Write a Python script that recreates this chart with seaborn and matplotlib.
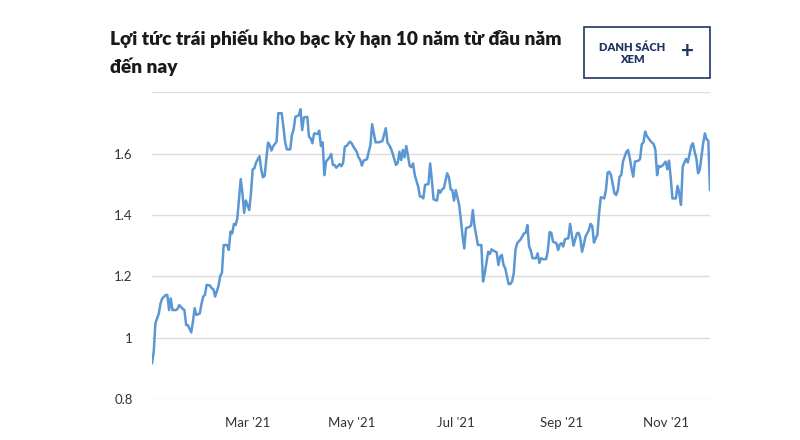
import pandas as pd
import matplotlib
matplotlib.use("Agg")
import matplotlib.pyplot as plt
import matplotlib.dates as mdates
from matplotlib.patches import Rectangle
from matplotlib.ticker import FuncFormatter
import seaborn as sns

# US 10Y treasury yield, 2021 YTD
dates = [
    "2021-01-04", "2021-01-05", "2021-01-06", "2021-01-08", "2021-01-09", "2021-01-10",
    "2021-01-12", "2021-01-13", "2021-01-14", "2021-01-15", "2021-01-16", "2021-01-18",
    "2021-01-19", "2021-01-20", "2021-01-22", "2021-01-23", "2021-01-24", "2021-01-25",
    "2021-01-27", "2021-01-28", "2021-01-29", "2021-01-30", "2021-02-01", "2021-02-02",
    "2021-02-03", "2021-02-04", "2021-02-05", "2021-02-07", "2021-02-08", "2021-02-09",
    "2021-02-10", "2021-02-12", "2021-02-13", "2021-02-14", "2021-02-15", "2021-02-17",
    "2021-02-18", "2021-02-19", "2021-02-20", "2021-02-21", "2021-02-22", "2021-02-23",
    "2021-02-25", "2021-02-26", "2021-02-27", "2021-02-28", "2021-03-02", "2021-03-03",
    "2021-03-04", "2021-03-05", "2021-03-06", "2021-03-08", "2021-03-09", "2021-03-10",
    "2021-03-11", "2021-03-13", "2021-03-14", "2021-03-15", "2021-03-16", "2021-03-18",
    "2021-03-19", "2021-03-21", "2021-03-22", "2021-03-23", "2021-03-24", "2021-03-26",
    "2021-03-27", "2021-03-28", "2021-03-29", "2021-03-31", "2021-04-01", "2021-04-02",
    "2021-04-03", "2021-04-05", "2021-04-06", "2021-04-07", "2021-04-08", "2021-04-09",
    "2021-04-11", "2021-04-12", "2021-04-13", "2021-04-14", "2021-04-15", "2021-04-16",
    "2021-04-18", "2021-04-19", "2021-04-20", "2021-04-21", "2021-04-22", "2021-04-24",
    "2021-04-25", "2021-04-26", "2021-04-27", "2021-04-28", "2021-04-30", "2021-05-01",
    "2021-05-02", "2021-05-04", "2021-05-05", "2021-05-06", "2021-05-07", "2021-05-08",
    "2021-05-10", "2021-05-11", "2021-05-12", "2021-05-13", "2021-05-14", "2021-05-15",
    "2021-05-17", "2021-05-18", "2021-05-19", "2021-05-21", "2021-05-22", "2021-05-23",
    "2021-05-24", "2021-05-25", "2021-05-27", "2021-05-28", "2021-05-29", "2021-05-30",
    "2021-05-31", "2021-06-01", "2021-06-02", "2021-06-04", "2021-06-05", "2021-06-06",
    "2021-06-07", "2021-06-09", "2021-06-10", "2021-06-11", "2021-06-12", "2021-06-13",
    "2021-06-15", "2021-06-16", "2021-06-17", "2021-06-18", "2021-06-20", "2021-06-21",
    "2021-06-22", "2021-06-23", "2021-06-24", "2021-06-26", "2021-06-27", "2021-06-28",
    "2021-06-29", "2021-06-30", "2021-07-01", "2021-07-03", "2021-07-04", "2021-07-05",
    "2021-07-06", "2021-07-07", "2021-07-09", "2021-07-10", "2021-07-11", "2021-07-12",
    "2021-07-14", "2021-07-15", "2021-07-16", "2021-07-17", "2021-07-18", "2021-07-20",
    "2021-07-21", "2021-07-22", "2021-07-23", "2021-07-25", "2021-07-26", "2021-07-27",
    "2021-07-28", "2021-07-29", "2021-07-30", "2021-08-01", "2021-08-02", "2021-08-03",
    "2021-08-04", "2021-08-05", "2021-08-06", "2021-08-08", "2021-08-10", "2021-08-11",
    "2021-08-12", "2021-08-13", "2021-08-14", "2021-08-15", "2021-08-17", "2021-08-18",
    "2021-08-19", "2021-08-20", "2021-08-21", "2021-08-23", "2021-08-24", "2021-08-25",
    "2021-08-26", "2021-08-27", "2021-08-29", "2021-08-30", "2021-08-31", "2021-09-01",
    "2021-09-02", "2021-09-03", "2021-09-05", "2021-09-06", "2021-09-07", "2021-09-08",
    "2021-09-10", "2021-09-11", "2021-09-12", "2021-09-13", "2021-09-14", "2021-09-15",
    "2021-09-17", "2021-09-18", "2021-09-19", "2021-09-20", "2021-09-21", "2021-09-22",
    "2021-09-23", "2021-09-24", "2021-09-26", "2021-09-27", "2021-09-28", "2021-09-29",
    "2021-09-30", "2021-10-02", "2021-10-03", "2021-10-04", "2021-10-05", "2021-10-06",
    "2021-10-07", "2021-10-09", "2021-10-10", "2021-10-11", "2021-10-12", "2021-10-13",
    "2021-10-14", "2021-10-16", "2021-10-17", "2021-10-18", "2021-10-19", "2021-10-20",
    "2021-10-21", "2021-10-23", "2021-10-24", "2021-10-25", "2021-10-26", "2021-10-27",
    "2021-10-28", "2021-10-29", "2021-10-30", "2021-11-01", "2021-11-02", "2021-11-03",
    "2021-11-04", "2021-11-05", "2021-11-07", "2021-11-08", "2021-11-09", "2021-11-10",
    "2021-11-11", "2021-11-12", "2021-11-13", "2021-11-14", "2021-11-16", "2021-11-17",
    "2021-11-18", "2021-11-19", "2021-11-20", "2021-11-21", "2021-11-23", "2021-11-24",
    "2021-11-25", "2021-11-26", "2021-11-27",
]
yields = [
    0.916, 0.954, 1.047, 1.079, 1.112, 1.128,
    1.139, 1.139, 1.090, 1.128, 1.090, 1.090,
    1.094, 1.106, 1.094, 1.090, 1.041, 1.041,
    1.017, 1.052, 1.096, 1.074, 1.079, 1.110,
    1.134, 1.139, 1.172, 1.170, 1.161, 1.158,
    1.134, 1.169, 1.201, 1.212, 1.302, 1.302,
    1.286, 1.346, 1.340, 1.371, 1.367, 1.389,
    1.517, 1.471, 1.407, 1.447, 1.416, 1.471,
    1.549, 1.552, 1.571, 1.592, 1.549, 1.523,
    1.528, 1.636, 1.628, 1.610, 1.624, 1.639,
    1.732, 1.732, 1.688, 1.639, 1.614, 1.614,
    1.661, 1.679, 1.720, 1.725, 1.745, 1.677,
    1.718, 1.720, 1.655, 1.650, 1.634, 1.666,
    1.664, 1.675, 1.625, 1.637, 1.530, 1.574,
    1.588, 1.599, 1.563, 1.563, 1.554, 1.566,
    1.559, 1.570, 1.623, 1.625, 1.639, 1.634,
    1.623, 1.606, 1.588, 1.580, 1.561, 1.577,
    1.582, 1.606, 1.628, 1.696, 1.666, 1.637,
    1.637, 1.639, 1.641, 1.683, 1.636, 1.628,
    1.617, 1.601, 1.563, 1.570, 1.606, 1.579,
    1.612, 1.588, 1.625, 1.560, 1.556, 1.568,
    1.530, 1.492, 1.460, 1.460, 1.454, 1.498,
    1.501, 1.568, 1.514, 1.451, 1.447, 1.481,
    1.473, 1.484, 1.487, 1.536, 1.523, 1.484,
    1.481, 1.447, 1.481, 1.433, 1.384, 1.331,
    1.291, 1.357, 1.361, 1.366, 1.416, 1.364,
    1.302, 1.302, 1.302, 1.183, 1.210, 1.280,
    1.273, 1.288, 1.284, 1.278, 1.237, 1.264,
    1.270, 1.237, 1.226, 1.175, 1.175, 1.183,
    1.210, 1.286, 1.308, 1.320, 1.340, 1.342,
    1.367, 1.297, 1.284, 1.259, 1.259, 1.275,
    1.244, 1.259, 1.256, 1.256, 1.286, 1.344,
    1.342, 1.313, 1.308, 1.286, 1.304, 1.308,
    1.297, 1.321, 1.324, 1.371, 1.335, 1.300,
    1.340, 1.342, 1.324, 1.280, 1.302, 1.329,
    1.351, 1.371, 1.364, 1.310, 1.324, 1.335,
    1.405, 1.458, 1.454, 1.481, 1.538, 1.541,
    1.530, 1.471, 1.465, 1.481, 1.525, 1.530,
    1.574, 1.606, 1.612, 1.585, 1.552, 1.525,
    1.574, 1.577, 1.582, 1.631, 1.636, 1.672,
    1.658, 1.642, 1.636, 1.631, 1.612, 1.530,
    1.560, 1.557, 1.560, 1.574, 1.549, 1.577,
    1.520, 1.454, 1.454, 1.495, 1.471, 1.433,
    1.557, 1.571, 1.583, 1.571, 1.625, 1.634,
    1.606, 1.585, 1.536, 1.547, 1.634, 1.666,
    1.647, 1.642, 1.481,
]
y_ticks = [0.8, 1.0, 1.2, 1.4, 1.6, 1.8]
title = "Lợi tức trái phiếu kho bạc kỳ hạn 10 năm từ đầu năm\nđến nay"
button_text = "DANH SÁCH\nXEM"

df = pd.DataFrame({"date": pd.to_datetime(dates), "yield": yields})

sns.set_style("white")
plt.rcParams["font.family"] = ["Lato", "DejaVu Sans"]

fig = plt.figure(figsize=(8, 4.4), dpi=100)
ax = fig.add_axes([0.19, 0.0932, 0.6975, 0.697])

sns.lineplot(data=df, x="date", y="yield", ax=ax, color="#5b97d3", linewidth=1.8)

ax.set_xlim(df["date"].min(), df["date"].max())
ax.set_ylim(0.8, 1.8)
ax.set_yticks(y_ticks)
ax.yaxis.set_major_formatter(FuncFormatter(lambda v, p: "" if v > 1.75 else f"{v:g}"))
ax.grid(axis="y", color="#dcdcdc", linewidth=1)
ax.grid(axis="x", visible=False)
for s in ax.spines.values():
    s.set_visible(False)

ax.xaxis.set_major_locator(mdates.MonthLocator(bymonth=[3, 5, 7, 9, 11]))
ax.xaxis.set_major_formatter(mdates.DateFormatter("%b '%y"))
ax.tick_params(axis="x", length=7, width=1, color="#333333", pad=6,
               labelsize=9.5, labelcolor="#333333")
ax.tick_params(axis="y", length=0, pad=14, labelsize=9.5, labelcolor="#333333")
ax.set_xlabel("")
ax.set_ylabel("")

fig.text(0.1375, 0.8795, title, fontsize=13.8, fontweight="heavy", color="#1a1a1a",
         va="center", ha="left", linespacing=1.6)

# "watchlist" button
fig.patches.append(Rectangle((0.73, 0.823), 0.1575, 0.116, transform=fig.transFigure,
                             fill=False, edgecolor="#1f3562", linewidth=1.2))
fig.text(0.79, 0.879, button_text, fontsize=8, fontweight="heavy", color="#1f3562",
         ha="center", va="center", linespacing=1.1)
fig.text(0.859, 0.884, "+", fontsize=16, fontweight="bold", color="#1f3562",
         ha="center", va="center")

fig.savefig("out.png", dpi=100)
